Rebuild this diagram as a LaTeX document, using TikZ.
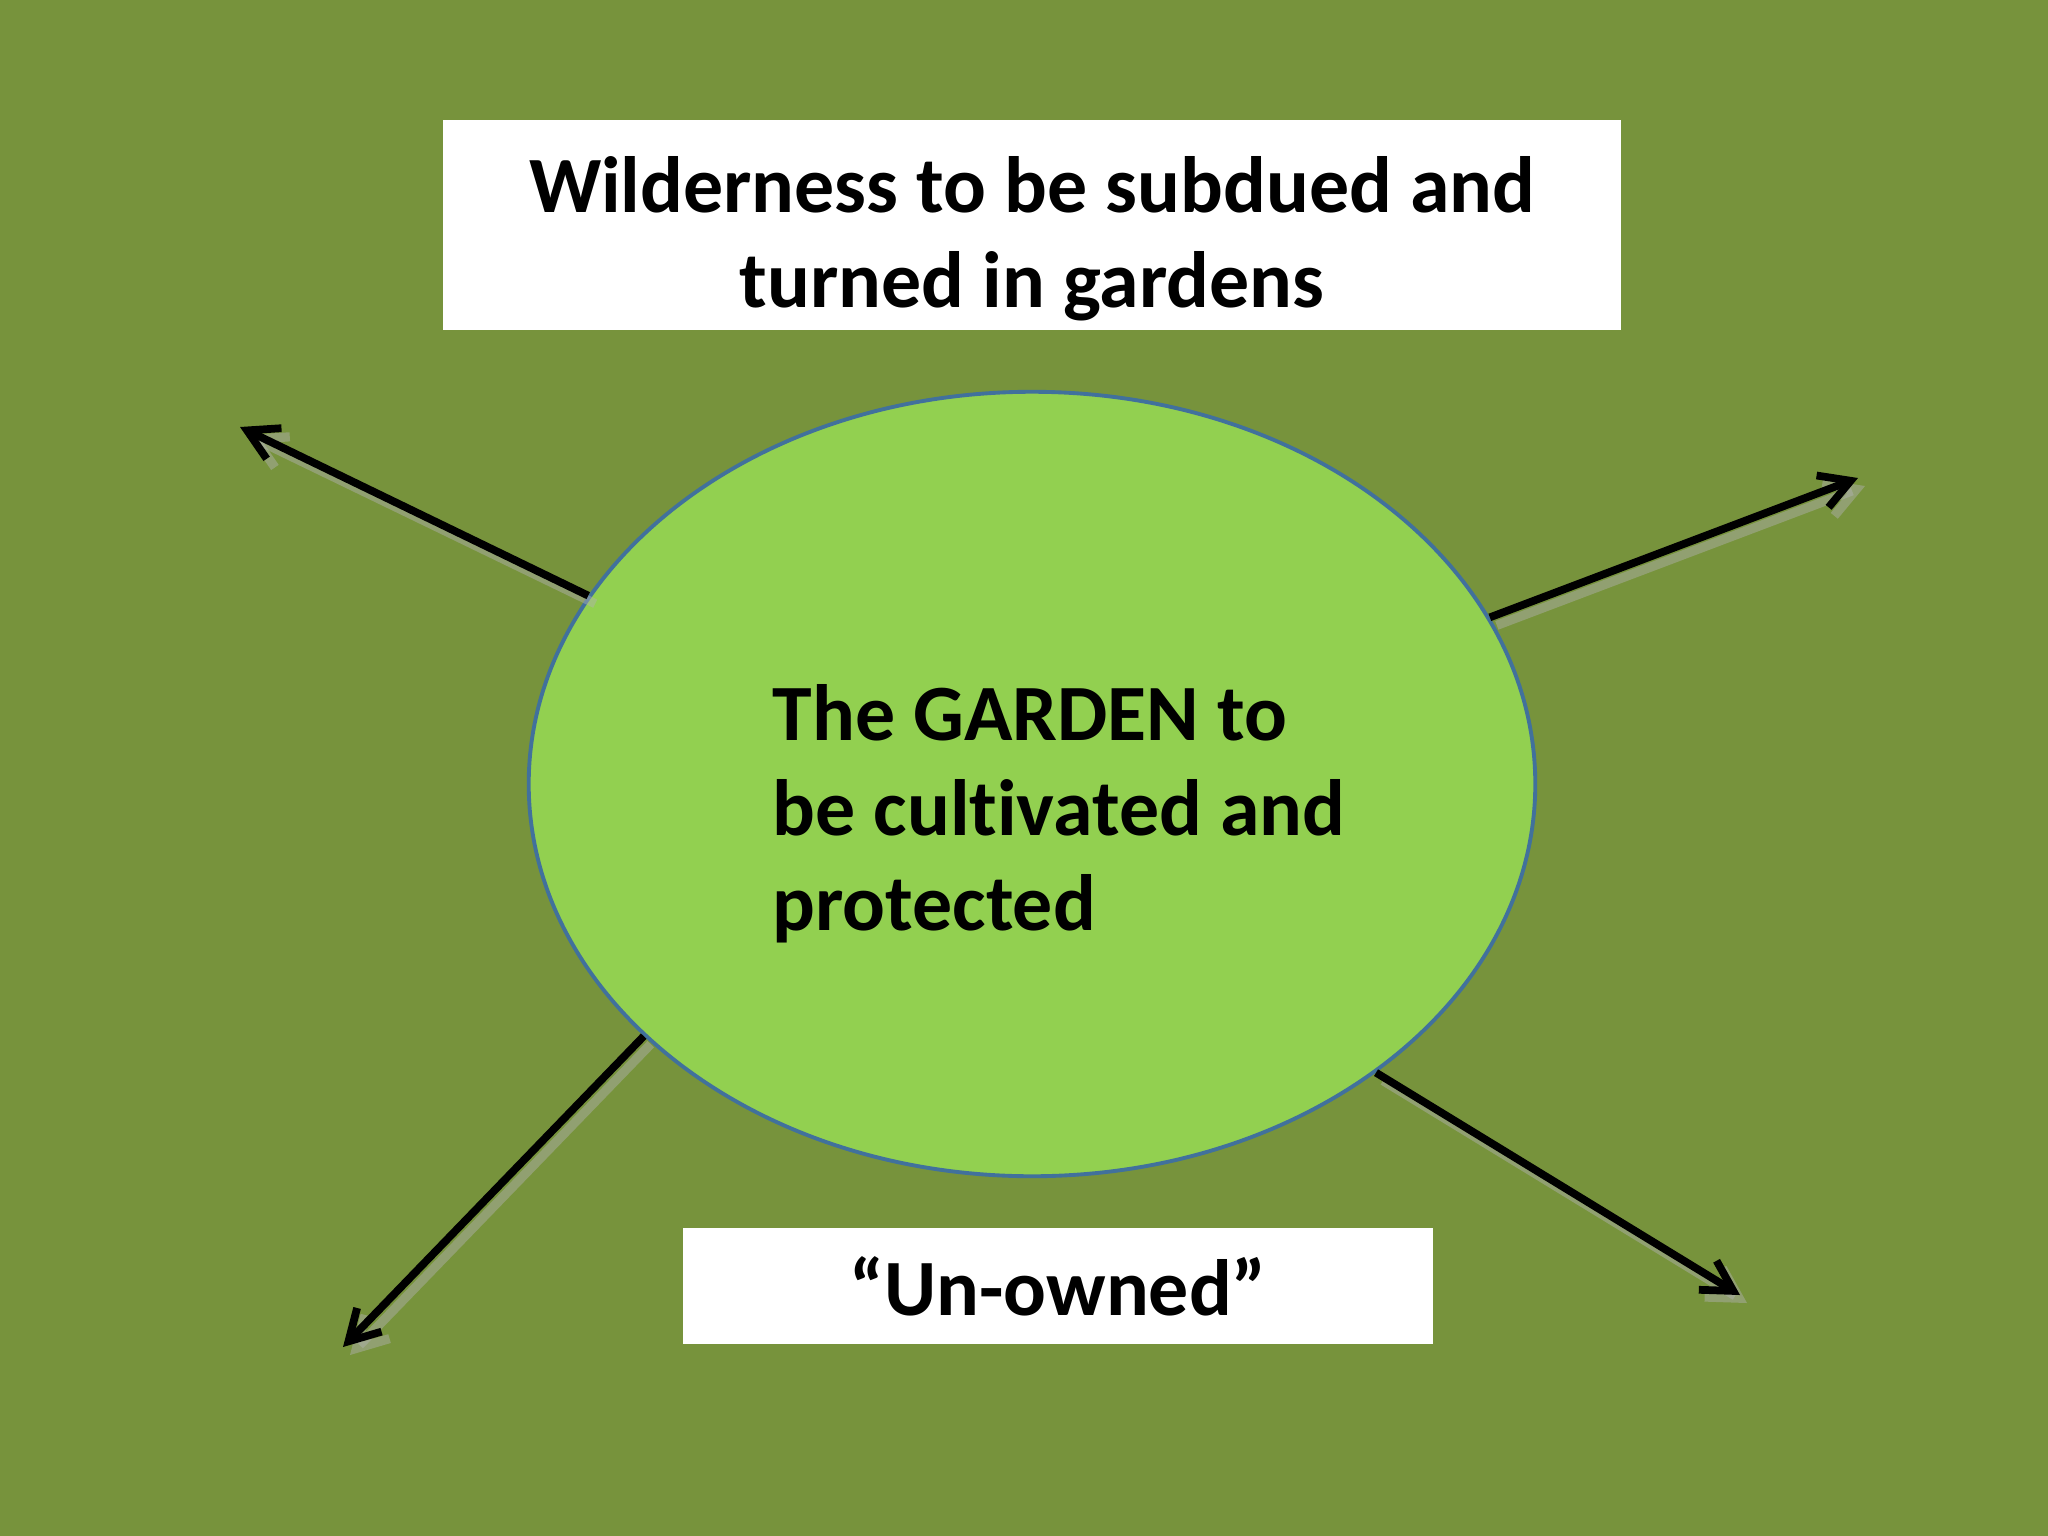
\documentclass[tikz,border=0pt]{standalone}
\usepackage{fontspec}
\setmainfont{Carlito}[Ligatures=NoCommon]
\usepackage{xcolor}
\usepackage{tikz}
\usetikzlibrary{shapes.geometric,arrows.meta,positioning}

\definecolor{bgolive}{HTML}{77933C}
\definecolor{gardenfill}{HTML}{92D050}
\definecolor{gardenedge}{HTML}{41719C}

\begin{document}
\begin{tikzpicture}[x=0.01cm, y=-0.01cm,
  textbox/.style={rectangle, fill=white, text centered, align=center, inner sep=0pt,
    font=\fontsize{22.7}{27}\selectfont\bfseries},
  gardenshape/.style={ellipse, draw=gardenedge, fill=gardenfill, line width=1.1pt,
    minimum width=10.06cm, minimum height=7.84cm, inner sep=0pt},
  gardenlabel/.style={align=left, anchor=west, inner sep=0pt,
    font=\fontsize{22.7}{27}\selectfont\bfseries},
  arrow/.style={line width=2.2pt, black, -{Straight Barb[length=0.3cm, width=0.34cm, line width=2.2pt]}},
  arrowshade/.style={line width=2.6pt, gray!60, opacity=0.45,
    -{Straight Barb[length=0.3cm, width=0.34cm, line width=2.6pt]},
    transform canvas={shift={(0.07cm,-0.08cm)}}}]

  % background
  \fill[bgolive] (0,0) rectangle (2048,1536);
  \useasboundingbox (0,0) rectangle (2048,1536);

  \node (garden) [gardenshape] at (1032,784) {};
  \node (gardentext) [gardenlabel] at (772,814) {The GARDEN to\\be cultivated and\\protected};

  \node (wild) [textbox, minimum width=11.77cm, minimum height=2.1cm, text height=50.5pt] at (1032,225)
    {Wilderness to be subdued and\\turned in gardens};
  \node (unowned) [textbox, minimum width=7.5cm, minimum height=1.15cm] at (1058,1286)
    {“Un-owned”};

  % free ends of the arrows
  \coordinate (tipUL) at (240,427);
  \coordinate (tipUR) at (1858,478);
  \coordinate (tipLL) at (343,1347);
  \coordinate (tipLR) at (1740,1295);

  \draw [arrowshade] (garden.157.6) -- (tipUL);
  \draw [arrowshade] (garden.20.7) -- (tipUR);
  \draw [arrowshade] (garden.213.9) -- (tipLL);
  \draw [arrowshade] (garden.320.3) -- (tipLR);

  \draw [arrow] (garden.157.6) -- (tipUL);
  \draw [arrow] (garden.20.7) -- (tipUR);
  \draw [arrow] (garden.213.9) -- (tipLL);
  \draw [arrow] (garden.320.3) -- (tipLR);
\end{tikzpicture}
\end{document}
